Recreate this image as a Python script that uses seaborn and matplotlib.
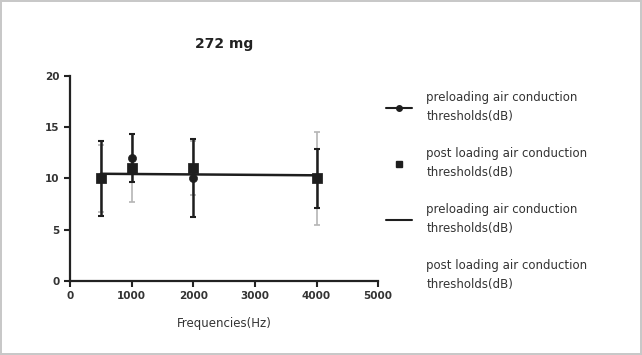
import matplotlib
matplotlib.use("Agg")
import matplotlib.pyplot as plt
from matplotlib.lines import Line2D
import pandas as pd
import seaborn as sns

# values
freqs = [500, 1000, 2000, 4000]
pre_mean = [10, 12, 10, 10]
pre_sd = [3.65, 2.35, 3.8, 2.9]
post_mean = [10, 11, 11, 10]
post_sd = [3.3, 3.3, 2.6, 4.5]
fit_x = [500, 4000]
fit_y = [10.45, 10.3]

label_pre = "preloading air conduction\nthresholds(dB)"
label_post = "post loading air conduction\nthresholds(dB)"

sns.set_style("ticks")
plt.rcParams["font.family"] = ["DejaVu Sans"]

dark = "#1e1e1e"
grey = "#b5b5b5"

fig = plt.figure(figsize=(6.42, 3.55), dpi=100)
fig.patch.set_edgecolor("#c8c8c8")
fig.patch.set_linewidth(1.5)
ax = fig.add_axes([0.109, 0.2085, 0.48, 0.578])

pre = pd.DataFrame({"freq": freqs, "mean": pre_mean, "sd": pre_sd})
post = pd.DataFrame({"freq": freqs, "mean": post_mean, "sd": post_sd})
fit = pd.DataFrame({"freq": fit_x, "y": fit_y})

# error bars (post in light grey behind, pre in dark on top)
ax.errorbar(post["freq"], post["mean"], yerr=post["sd"], fmt="none",
            ecolor=grey, elinewidth=1.2, capsize=2, capthick=1.2, zorder=1)
ax.errorbar(pre["freq"], pre["mean"], yerr=pre["sd"], fmt="none",
            ecolor=dark, elinewidth=1.8, capsize=2, capthick=1.5, zorder=2)

sns.lineplot(data=fit, x="freq", y="y", color=dark, linewidth=1.8, ax=ax,
             zorder=3)
sns.scatterplot(data=pre, x="freq", y="mean", marker="o", s=34, color=dark,
                edgecolor=dark, ax=ax, zorder=4)
sns.scatterplot(data=post, x="freq", y="mean", marker="s", s=46, color=dark,
                edgecolor=dark, ax=ax, zorder=5)

ax.set_xlim(0, 5000)
ax.set_ylim(0, 20)
ax.set_xticks(range(0, 5001, 1000))
ax.set_yticks(range(0, 21, 5))
for s in ["left", "bottom"]:
    ax.spines[s].set_linewidth(1.6)
    ax.spines[s].set_color("#222222")
sns.despine(ax=ax)
ax.tick_params(axis="both", labelsize=7.5, width=1.5, length=4,
               colors="#222222", labelcolor="#333333")
for t in ax.get_xticklabels() + ax.get_yticklabels():
    t.set_fontweight("bold")

ax.set_title("272 mg", fontsize=10, fontweight="bold", color="#222222", pad=20)
ax.set_xlabel("Frequencies(Hz)", fontsize=8.5, color="#333333", labelpad=11)
ax.set_ylabel("")

handles = [
    Line2D([], [], color=dark, marker="o", markersize=4, linewidth=1.5),
    Line2D([], [], color=dark, marker="s", markersize=4, linestyle="none"),
    Line2D([], [], color=dark, linewidth=1.5),
    Line2D([], [], color="none"),
]
labels = [label_pre, label_post, label_pre, label_post]
leg = fig.legend(handles, labels, loc="upper left",
                 bbox_to_anchor=(0.585, 0.775), frameon=False,
                 fontsize=8.5, labelspacing=2.0, handlelength=2.2,
                 handletextpad=1.2)
for t in leg.get_texts():
    t.set_linespacing(1.65)
    t.set_color("#333333")

fig.savefig("out.png", dpi=100)
